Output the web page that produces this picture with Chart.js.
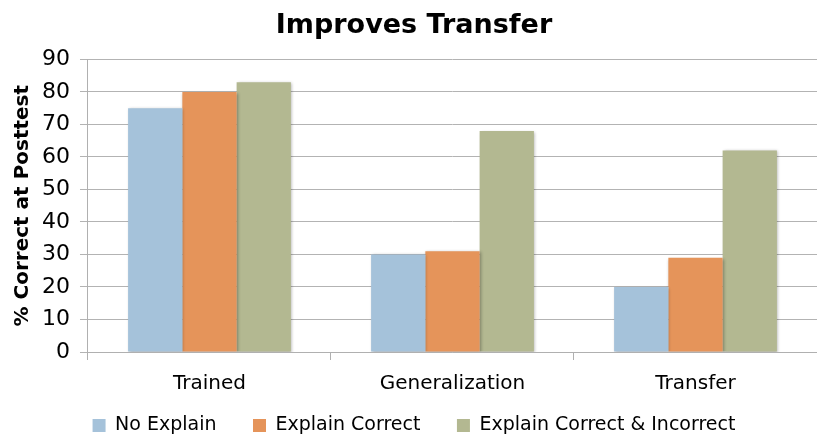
<!DOCTYPE html>
<html>
<head>
<meta charset="utf-8">
<script src="https://cdn.jsdelivr.net/npm/chart.js@4"></script>
<style>
  html, body { margin: 0; padding: 0; background: #fff; overflow: hidden; }
  #wrap { width: 817px; height: 436px; }
</style>
</head>
<body>
<div id="wrap"><canvas id="transferChart"></canvas></div>
<script>
const categories = ['Trained', 'Generalization', 'Transfer'];
const seriesNames = ['No Explain', 'Explain Correct', 'Explain Correct & Incorrect'];
const noExplain = [75, 30, 20];
const explainCorrect = [80, 31, 29];
const explainBoth = [83, 68, 62];
const yTicks = [0, 10, 20, 30, 40, 50, 60, 70, 80, 90];

const colors = ['#a5c2da', '#e5945a', '#b3b891'];
const font = "'DejaVu Sans', sans-serif";

// soft drop shadow under the bars
const barShadow = {
  id: 'barShadow',
  beforeDatasetsDraw(chart) {
    const ctx = chart.ctx;
    ctx.save();
    ctx.shadowColor = 'rgba(0,0,0,0.3)';
    ctx.shadowBlur = 3;
    ctx.shadowOffsetX = 1;
    ctx.shadowOffsetY = 1;
  },
  afterDatasetsDraw(chart) {
    chart.ctx.restore();
  }
};

const ctx = document.getElementById('transferChart');

new Chart(ctx, {
  type: 'bar',
  data: {
    labels: categories,
    datasets: [noExplain, explainCorrect, explainBoth].map((vals, i) => ({
      label: seriesNames[i],
      data: vals,
      backgroundColor: colors[i],
      borderWidth: 0,
      barPercentage: 1.0,
      categoryPercentage: 0.67
    }))
  },
  options: {
    responsive: true,
    maintainAspectRatio: false,
    animation: false,
    layout: { padding: { left: 11, right: 0, top: 2, bottom: -9 } },
    plugins: {
      title: {
        display: true,
        text: 'Improves Transfer',
        color: '#000',
        font: { family: font, size: 27, weight: 'bold' },
        padding: { top: 8, bottom: 17 }
      },
      legend: {
        position: 'bottom',
        labels: {
          color: '#000',
          font: { family: font, size: 19 },
          boxWidth: 13,
          boxHeight: 13,
          padding: 8,
          // widen the gap between legend entries
          generateLabels(chart) {
            const items = Chart.defaults.plugins.legend.labels.generateLabels(chart);
            items.forEach((it, i) => {
              if (i < items.length - 1) it.text += '\u2003\u2002';
            });
            return items;
          }
        }
      },
      tooltip: { enabled: false }
    },
    scales: {
      x: {
        offset: true,
        grid: {
          offset: true,
          drawOnChartArea: false,
          drawTicks: true,
          tickLength: 8,
          color: '#b0b0b0'
        },
        border: { color: '#b0b0b0' },
        ticks: {
          color: '#000',
          font: { family: font, size: 20 },
          padding: 12
        }
      },
      y: {
        min: 0,
        max: 90,
        afterBuildTicks(axis) {
          axis.ticks = yTicks.map(v => ({ value: v }));
        },
        grid: {
          color: '#b3b3b3',
          tickLength: 8
        },
        border: { color: '#b0b0b0' },
        ticks: {
          color: '#000',
          font: { family: font, size: 22 },
          padding: 10
        },
        title: {
          display: true,
          text: '% Correct at Posttest',
          color: '#000',
          font: { family: font, size: 20, weight: 'bold' },
          padding: { top: 0, bottom: -3 }
        }
      }
    }
  },
  plugins: [barShadow]
});
</script>
</body>
</html>
